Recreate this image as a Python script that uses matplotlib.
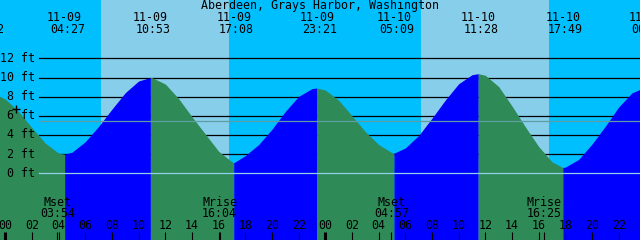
import matplotlib
matplotlib.use("Agg")
import matplotlib.pyplot as plt
import numpy as np

station = "Aberdeen, Grays Harbor, Washington"

# tide height, hours from 11-09 00:00, feet
hours = list(range(-1, 49))
heights = [8.43, 7.75, 6.45, 4.75, 3.15, 2.1, 2.2, 3.3, 4.9, 6.7,
           8.42, 9.64, 9.99, 9.32, 7.8, 5.9, 4.1, 2.3, 1.2, 1.85,
           3.0, 4.6, 6.46, 8.03, 8.84, 8.69, 7.63, 6.0, 4.35, 3.0,
           2.15, 2.65, 3.95, 5.75, 7.65, 9.35, 10.29, 10.23, 9.06, 7.03,
           4.85, 2.8, 1.2, 0.65, 1.45, 3.05, 4.91, 6.92, 8.4, 9.0]

# highs and lows
ext_hours = [-1.633, 4.45, 10.883, 17.133, 23.35, 29.15, 35.467, 41.817, 48.08]
ext_heights = [8.5, 2.0, 10.0, 1.1, 8.9, 2.1, 10.4, 0.6, 9.0]
ext_dates = ["11-08", "11-09", "11-09", "11-09", "11-09", "11-10", "11-10", "11-10", "11-11"]
ext_times = ["22:22", "04:27", "10:53", "17:08", "23:21", "05:09", "11:28", "17:49", "00:05"]

sunrise = [7.18, 31.2]
sunset = [16.8, 40.8]

moon_hours = [3.9, 16.067, 28.95, 40.417]
moon_names = ["Mset", "Mrise", "Mset", "Mrise"]
moon_times = ["03:54", "16:04", "04:57", "16:25"]

ft_levels = [0, 2, 4, 6, 8, 10, 12]
mean_level = 5.5
now_hour, now_ft = 0.83, 6.7

NIGHT = "#00BFFF"
DAY = "#87CEEB"
FALL = "#2E8B57"
RISE = "#0000FF"

fig = plt.figure(figsize=(6.4, 2.4), dpi=100)
ax = fig.add_axes([0, 0, 1, 1])
ax.set_xlim(-0.3975, 47.6)
ax.set_ylim(-6.96, 18.09)
ax.axis("off")
ax.add_patch(plt.Rectangle((0, 0), 1, 1, transform=ax.transAxes, color=NIGHT, zorder=0))

for a, b in zip(sunrise, sunset):
    ax.axvspan(a, b, color=DAY, lw=0, zorder=0.5)

font = dict(family="DejaVu Sans Mono", fontsize=8.4)
x_start = 39 / 640

for lv in ft_levels:
    ax.axhline(lv, xmin=x_start, color="black", lw=0.9, zorder=1)
    ax.text(-0.3975 + 35 / 13.333, lv, f"{lv} ft", ha="right", va="center", zorder=5, **font)

t = np.array(hours + ext_hours, float)
h = np.array(heights + ext_heights, float)
order = np.argsort(t)
t, h = t[order], h[order]

for i in range(len(ext_hours) - 1):
    ta, tb = ext_hours[i], ext_hours[i + 1]
    m = (t >= ta) & (t <= tb)
    col = FALL if ext_heights[i] > ext_heights[i + 1] else RISE
    ax.fill_between(t[m], h[m], -7, color=col, lw=0, zorder=2)

ax.axhline(0, xmin=x_start, color="#90D0E8", lw=0.9, zorder=3)
ax.axhline(mean_level, xmin=x_start, color="#5F9EA0", lw=0.9, zorder=3)

ax.plot([now_hour], [now_ft], marker="+", color="black", ms=6, mew=1, zorder=5)

ax.text(23.6, 0.976, station, ha="center", va="center",
        transform=ax.get_xaxis_transform(), zorder=5, **font)
for x, d, tm in zip(ext_hours, ext_dates, ext_times):
    ax.text(x, 0.927, d, ha="center", va="center", transform=ax.get_xaxis_transform(), zorder=5, **font)
    ax.text(x + 0.2, 0.878, tm, ha="center", va="center", transform=ax.get_xaxis_transform(), zorder=5, **font)

tr = ax.get_xaxis_transform()
tick_hours = list(range(0, 48, 2))
for hr in tick_hours:
    ax.text(hr, 0.0604, f"{hr % 24:02d}", ha="center", va="center", transform=tr, zorder=5, **font)
    ax.vlines(hr, 0, 8 / 240, transform=tr, color="black", lw=2.2 if hr % 24 == 0 else 0.8, zorder=5)

for x, name, tm in zip(moon_hours, moon_names, moon_times):
    ax.text(x, 0.158, name, ha="center", va="center", transform=tr, zorder=5, **font)
    ax.text(x, 0.110, tm, ha="center", va="center", transform=tr, zorder=5, **font)
    ax.vlines(x, 0, 8 / 240, transform=tr, color="black", lw=0.8, zorder=5)

fig.savefig("out.png", dpi=100)
